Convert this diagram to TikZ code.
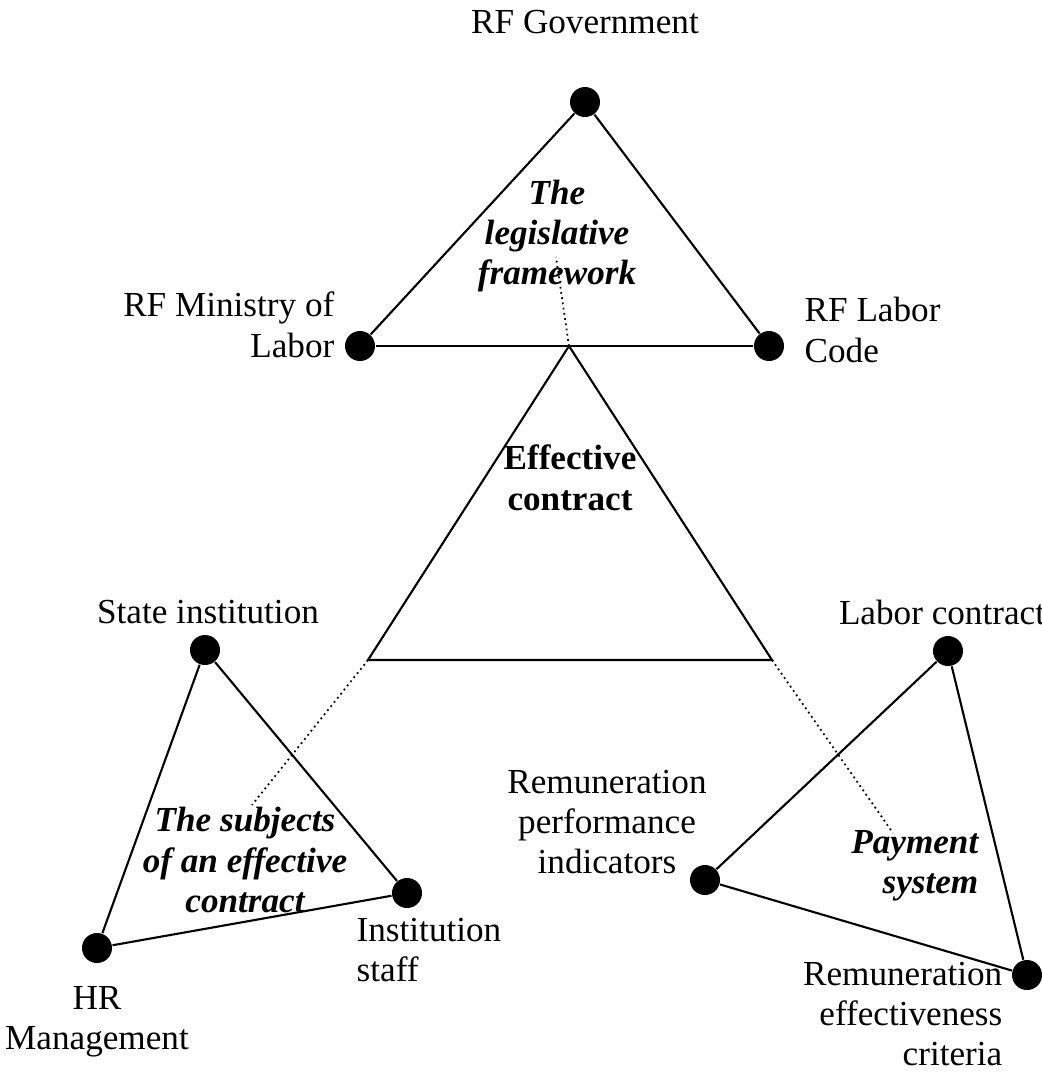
\documentclass[tikz,border=0pt]{standalone}
\usepackage{fontspec}
\setmainfont{Liberation Serif}

\tikzset{
		dot/.style={circle, fill=black, inner sep=0pt, minimum size=0.3cm},
		edge/.style={black, line width=0.6pt},
		link/.style={black, line width=0.5pt, densely dotted},
		lbl/.style={font=\fontsize{10}{11.5}\selectfont, inner sep=0pt},
		title/.style={font=\fontsize{10}{11.5}\selectfont\bfseries\itshape, inner sep=0pt, align=center}
	}

\begin{document}
\begin{tikzpicture}[x=0.01cm, y=-0.01cm]

\useasboundingbox (0,0) rectangle (1041,1072);

% top triangle
\node (gov) at (585,102) [dot] {};
\node (min) at (360,346) [dot] {};
\node (code) at (769,346) [dot] {};

\draw [edge] (gov) -- (min);
\draw [edge] (gov) -- (code);
\draw [edge] (min) -- (code);

\node (govlbl) at (585,22) [lbl] {RF Government};
\node (minlbl) at (335,325) [lbl, anchor=east, align=right] {RF Ministry of\\Labor};
\node (codelbl) at (804,330) [lbl, anchor=west, align=left] {RF Labor\\Code};
\node (legis) at (557,236) [title] {The\\legislative\\framework};

% middle triangle
\coordinate (top) at (569,346);
\coordinate (bl) at (368,660);
\coordinate (br) at (772,660);

\draw [edge] (top) -- (bl) -- (br) -- cycle;
\node (eff) at (570,478) [lbl, font=\fontsize{10}{11.5}\selectfont\bfseries, align=center] {Effective\\contract};

% left triangle
\node (state) at (205,650) [dot] {};
\node (staff) at (407,893) [dot] {};
\node (hr) at (97,948) [dot] {};

\draw [edge] (state) -- (staff);
\draw [edge] (staff) -- (hr);
\draw [edge] (hr) -- (state);

\node (statelbl) at (208,612) [lbl] {State institution};
\node (stafflbl) at (356,950) [lbl, anchor=west, align=left] {Institution\\staff};
\node (hrlbl) at (97,1022) [lbl, align=center] {HR\\Management};
\node (subj) at (245,860) [title] {The subjects\\of an effective\\contract};

% right triangle
\node (labor) at (948,651) [dot] {};
\node (perf) at (705,880) [dot] {};
\node (crit) at (1027,975) [dot] {};

\draw [edge] (labor) -- (perf);
\draw [edge] (perf) -- (crit);
\draw [edge] (crit) -- (labor);

\node (laborlbl) at (942,612) [lbl] {Labor contract};
\node (perflbl) at (607,822) [lbl, align=center] {Remuneration\\performance\\indicators};
\node (critlbl) at (1003,1014) [lbl, anchor=east, align=right] {Remuneration\\effectiveness\\criteria};
\node (pay) at (979,866) [title, anchor=east, align=right] {Payment\\system};

% dotted links
\coordinate (legisend) at (556,257);
\coordinate (subjend) at (252,805);
\coordinate (payend) at (893,833);

\draw [link] (top) -- (legisend);
\draw [link] (bl) -- (subjend);
\draw [link] (br) -- (payend);

\end{tikzpicture}
\end{document}
